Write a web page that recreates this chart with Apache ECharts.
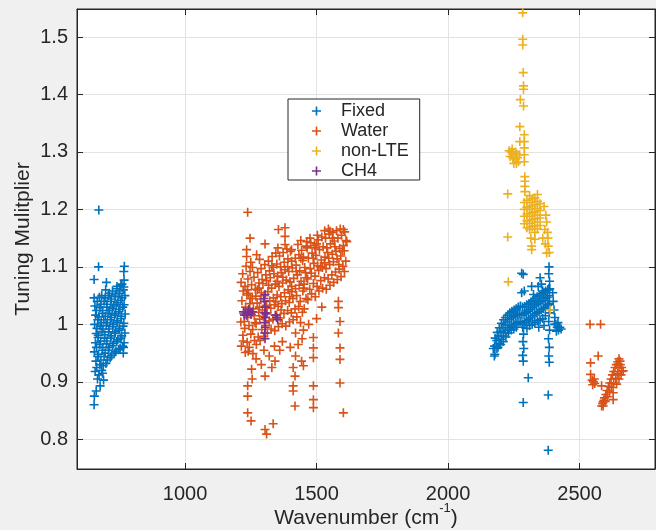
<!DOCTYPE html>
<html>
<head>
<meta charset="utf-8">
<script src="https://cdn.jsdelivr.net/npm/echarts@6/dist/echarts.min.js"></script>
<style>
html,body{margin:0;padding:0;background:#f0f0f0;}
#c{width:656px;height:530px;}
</style>
</head>
<body>
<div id="c"></div>
<script>
const seriesNames = ['Fixed', 'Water', 'non-LTE', 'CH4'];
const xTicks = [1000, 1500, 2000, 2500];
const yTicks = [0.8, 0.9, 1.0, 1.1, 1.2, 1.3, 1.4, 1.5];

const fixedData = [
[672,1.199],[671,1.100],[769,1.101],[767,1.092],[654,1.078],[701,1.073],[768,1.077],[698,1.060],[741,1.066],[760,1.070],[655,0.875],[677,0.893],[654,0.860],[662,0.884],[690,0.903],[686,0.915],[765,0.950],[766,0.960],
[658,0.918],[661,0.936],[655,0.952],[659,0.968],[662,0.984],[656,1.000],[660,1.016],[657,1.032],[654,1.046],
[667,0.905],[664,0.925],[668,0.944],[663,0.960],[669,0.977],[665,0.993],[668,1.008],[663,1.024],[666,1.040],
[673,0.912],[676,0.930],[671,0.948],[675,0.965],[670,0.981],[677,0.997],[672,1.013],[676,1.029],[674,1.047],
[683,0.920],[680,0.938],[685,0.955],[679,0.971],[684,0.987],[681,1.003],[686,1.019],[680,1.035],[683,1.050],
[689,0.928],[692,0.944],[687,0.960],[693,0.976],[688,0.992],[691,1.008],[686,1.024],[692,1.040],
[699,0.932],[696,0.950],[701,0.966],[695,0.982],[700,0.998],[697,1.014],[702,1.030],[696,1.046],
[705,0.938],[708,0.955],[703,0.971],[709,0.987],[704,1.003],[707,1.019],[703,1.035],[708,1.050],
[715,0.942],[712,0.960],[717,0.976],[711,0.992],[716,1.008],[713,1.024],[718,1.040],[712,1.054],
[721,0.946],[724,0.963],[719,0.980],[725,0.996],[720,1.012],[723,1.028],[719,1.044],[724,1.058],
[731,0.950],[728,0.967],[733,0.984],[727,1.000],[732,1.016],[729,1.032],[734,1.048],
[737,0.953],[740,0.970],[735,0.987],[741,1.003],[736,1.019],[739,1.035],[735,1.051],[740,1.062],
[747,0.956],[744,0.973],[749,0.990],[743,1.006],[748,1.022],[745,1.038],[750,1.054],
[753,0.958],[756,0.976],[751,0.993],[757,1.010],[752,1.026],[755,1.042],[751,1.058],[756,1.068],
[762,0.962],[759,0.980],[764,0.997],[758,1.014],[763,1.030],[760,1.046],[765,1.060],
[768,0.968],[771,0.985],[767,1.002],[772,1.018],[768,1.034],[771,1.050],[767,1.065],
[2172,0.958],[2176,0.945],[2178,0.948],[2177,0.962],[2179,0.976],
[2186,0.958],[2185,0.972],[2187,0.986],[2194,0.966],[2193,0.980],[2195,0.994],
[2202,0.974],[2201,0.988],[2203,1.002],[2210,0.980],[2209,0.994],[2211,1.008],
[2218,0.985],[2217,0.999],[2219,1.012],[2226,0.990],[2225,1.004],[2227,1.016],
[2234,0.994],[2233,1.008],[2235,1.020],[2242,0.997],[2241,1.011],[2243,1.023],
[2250,1.000],[2249,1.013],[2251,1.025],[2258,1.002],[2257,1.015],[2259,1.027],
[2266,1.004],[2265,1.017],[2267,1.030],[2274,1.005],[2273,1.019],[2275,1.032],
[2282,1.000],[2281,1.016],[2283,1.030],[2290,1.003],[2289,1.018],[2291,1.031],
[2298,1.006],[2297,1.020],[2299,1.034],[2306,1.009],[2305,1.023],[2307,1.036],
[2314,1.012],[2313,1.026],[2315,1.039],[2322,1.015],[2321,1.029],[2323,1.042],
[2330,1.018],[2329,1.032],[2331,1.045],[2338,1.020],[2337,1.034],[2339,1.048],
[2346,1.022],[2345,1.037],[2347,1.050],[2354,1.025],[2353,1.040],[2355,1.053],
[2362,1.027],[2361,1.042],[2363,1.055],[2370,1.030],[2369,1.045],[2371,1.058],
[2378,1.033],[2377,1.047],[2379,1.060],[2386,1.036],[2385,1.050],[2387,1.062],
[2190,0.960],[2200,0.965],[2210,0.970],[2220,0.978],[2230,0.985],[2240,0.990],[2250,0.992],[2260,0.995],
[2310,0.998],[2320,1.000],[2330,1.003],[2340,1.006],[2350,1.008],[2360,1.010],[2370,1.015],[2300,0.993],[2345,0.995],[2365,0.998],
[2398,1.055],[2400,1.040],[2403,1.025],[2406,1.012],[2410,1.000],[2415,0.995],[2420,0.990],[2425,0.995],[2430,0.992],[2418,1.003],[2412,0.988],[2405,1.000],
[2284,0.995],[2287,0.983],[2285,0.970],[2288,0.958],[2284,0.946],[2286,0.936],
[2384,1.100],[2383,1.088],[2386,1.075],[2383,1.062],[2382,1.035],[2385,1.020],[2383,1.005],[2386,0.990],[2382,0.975],[2385,0.960],[2383,0.945],[2385,0.934],
[2280,1.089],[2286,1.087],[2350,1.081],[2318,1.066],[2280,1.055],[2290,1.058],[2325,1.052],[2343,1.066],[2355,1.070],[2360,1.058],
[2305,0.907],[2286,0.864],[2381,0.877],[2381,0.781]
];

const waterData = [
[1214,0.962],[1220,0.981],[1212,1.004],[1223,1.019],[1216,1.041],[1221,1.058],[1213,1.073],[1219,1.088],
[1229,0.951],[1236,0.969],[1227,0.993],[1238,1.012],[1230,1.030],[1235,1.051],[1228,1.066],[1239,1.079],[1232,1.101],
[1244,0.960],[1250,0.983],[1243,0.998],[1252,1.017],[1246,1.036],[1241,1.054],[1253,1.069],[1247,1.092],[1250,1.108],
[1258,0.949],[1264,0.972],[1257,0.991],[1266,1.003],[1260,1.027],[1255,1.045],[1267,1.061],[1262,1.082],[1256,1.099],
[1271,0.965],[1278,0.978],[1270,1.001],[1280,1.021],[1274,1.037],[1269,1.049],[1281,1.072],[1276,1.090],
[1285,0.972],[1292,0.991],[1284,1.009],[1294,1.025],[1287,1.044],[1282,1.063],[1293,1.078],[1289,1.097],[1283,1.113],
[1299,0.979],[1306,0.998],[1297,1.014],[1308,1.033],[1301,1.050],[1296,1.071],[1307,1.086],[1303,1.104],
[1313,0.985],[1320,1.006],[1312,1.020],[1322,1.041],[1315,1.057],[1310,1.076],[1321,1.093],[1317,1.110],
[1327,0.992],[1334,1.009],[1326,1.028],[1336,1.046],[1329,1.063],[1324,1.081],[1335,1.099],[1331,1.118],
[1341,0.989],[1348,1.016],[1340,1.034],[1350,1.051],[1343,1.070],[1338,1.088],[1349,1.105],[1345,1.124],
[1355,0.996],[1362,1.011],[1354,1.031],[1364,1.048],[1357,1.066],[1352,1.084],[1363,1.100],[1359,1.119],[1353,1.133],
[1369,1.001],[1376,1.019],[1368,1.036],[1378,1.055],[1371,1.072],[1366,1.090],[1377,1.108],[1373,1.125],
[1383,0.997],[1390,1.024],[1382,1.041],[1392,1.060],[1385,1.077],[1380,1.095],[1391,1.114],[1387,1.131],
[1397,1.004],[1404,1.020],[1396,1.038],[1406,1.057],[1399,1.074],[1394,1.092],[1405,1.110],[1401,1.127],
[1411,1.008],[1418,1.027],[1410,1.045],[1420,1.062],[1413,1.080],[1408,1.098],[1419,1.115],
[1425,1.013],[1432,1.031],[1424,1.050],[1434,1.068],[1427,1.086],[1422,1.103],[1433,1.121],[1429,1.139],
[1439,1.003],[1446,1.021],[1438,1.040],[1448,1.058],[1441,1.075],[1436,1.093],[1447,1.111],[1443,1.129],[1440,1.146],
[1453,1.027],[1460,1.045],[1452,1.063],[1462,1.081],[1455,1.099],[1450,1.117],[1461,1.136],
[1467,1.043],[1474,1.061],[1466,1.079],[1476,1.097],[1469,1.115],[1464,1.133],[1475,1.150],
[1481,1.053],[1488,1.071],[1480,1.089],[1490,1.106],[1483,1.124],[1478,1.142],
[1495,1.048],[1502,1.066],[1494,1.084],[1504,1.102],[1497,1.120],[1492,1.137],[1503,1.155],
[1509,1.058],[1516,1.076],[1508,1.094],[1518,1.112],[1511,1.130],[1506,1.147],
[1523,1.063],[1530,1.081],[1522,1.099],[1532,1.117],[1525,1.135],[1520,1.152],[1531,1.163],
[1537,1.061],[1544,1.079],[1536,1.097],[1546,1.115],[1539,1.133],[1534,1.150],[1545,1.166],
[1551,1.068],[1558,1.086],[1550,1.104],[1560,1.122],[1553,1.140],[1548,1.157],
[1565,1.073],[1572,1.091],[1564,1.109],[1574,1.127],[1567,1.145],[1562,1.160],
[1579,1.078],[1586,1.096],[1578,1.114],[1588,1.132],[1581,1.150],[1576,1.163],
[1593,1.083],[1600,1.101],[1592,1.119],[1602,1.137],[1595,1.155],[1590,1.166],
[1606,1.092],[1611,1.110],[1605,1.128],[1612,1.146],[1607,1.161],
[1225,1.005],[1263,1.015],[1248,1.045],[1290,1.055],[1318,1.068],[1345,1.040],[1372,1.082],[1398,1.048],[1423,1.092],[1458,1.090],
[1487,1.115],[1515,1.100],[1542,1.125],[1570,1.135],[1598,1.128],[1310,1.030],[1365,1.025],[1405,1.066],[1452,1.070],[1530,1.107],
[1585,1.104],[1275,1.060],[1330,1.102],[1390,1.100],[1440,1.115],[1500,1.140],[1560,1.150],[1237,1.060],[1283,1.030],[1350,1.075],
[1238,1.195],[1355,1.165],[1380,1.168],[1380,1.153],[1247,1.150],[1304,1.140],[1234,1.130],[1234,1.118],[1272,1.121],[1380,1.139],[1405,1.130],[1463,1.144],[1494,1.133],[1551,1.162],[1602,1.165],[1615,1.144],
[1221,0.971],[1240,0.953],[1253,0.922],[1304,0.910],[1238,0.893],[1238,0.875],[1238,0.846],[1251,0.832],[1304,0.817],[1310,0.809],[1335,0.827],[1342,0.936],
[1411,0.925],[1418,0.910],[1411,0.884],[1418,0.858],[1450,0.928],[1488,0.977],[1488,0.959],[1488,0.942],[1488,0.893],[1488,0.869],[1488,0.855],
[1583,1.040],[1583,1.029],[1589,1.005],[1583,0.985],[1589,0.959],[1589,0.939],[1589,0.898],[1602,0.846],[1443,0.936],[1411,0.893],
[1300,0.955],[1320,0.945],[1340,0.962],[1360,0.955],[1330,0.925],[1430,0.965],[1445,0.975],[1400,0.960],[1420,0.945],[1370,0.970],[1290,0.930],[1270,0.940],[1255,0.905],[1420,0.985],[1450,0.990],[1470,1.000],[1500,1.010],[1520,1.030],
[2540,1.000],[2580,1.000],[2571,0.945],[2542,0.933],[2542,0.913],
[2548,0.903],[2553,0.900],[2558,0.897],[2550,0.895],[2556,0.905],[2584,0.893],
[2584,0.858],[2590,0.865],[2595,0.872],[2600,0.878],[2605,0.885],[2610,0.892],[2615,0.898],[2620,0.905],[2625,0.912],[2630,0.918],[2635,0.925],[2640,0.930],[2645,0.935],[2650,0.940],[2654,0.936],
[2590,0.858],[2598,0.866],[2606,0.874],[2614,0.882],[2622,0.890],[2630,0.898],[2638,0.906],[2645,0.915],[2650,0.925],[2655,0.930],
[2660,0.925],[2666,0.919],[2658,0.912],[2650,0.905],[2641,0.896],[2628,0.881],[2628,0.869],[2660,0.918],[2588,0.862],[2593,0.868]
];

const nonLteData = [
[2284,1.542],[2284,1.496],[2284,1.486],[2286,1.438],[2287,1.415],[2287,1.409],[2275,1.391],[2287,1.380],[2273,1.344],[2290,1.330],[2273,1.318],[2290,1.318],[2290,1.307],
[2232,1.302],[2240,1.300],[2248,1.298],[2256,1.300],[2236,1.292],[2246,1.290],[2256,1.288],[2264,1.290],[2250,1.280],[2260,1.280],[2268,1.283],[2272,1.295],[2244,1.305],[2262,1.296],
[2290,1.295],[2290,1.283],[2292,1.257],[2292,1.249],[2292,1.240],[2292,1.231],[2227,1.227],
[2290,1.175],[2290,1.188],[2290,1.200],[2290,1.212],
[2300,1.168],[2300,1.180],[2300,1.192],[2300,1.204],[2300,1.216],
[2310,1.165],[2310,1.176],[2310,1.188],[2310,1.200],[2310,1.212],[2310,1.224],
[2320,1.170],[2320,1.182],[2320,1.194],[2320,1.206],[2320,1.218],
[2330,1.160],[2330,1.172],[2330,1.184],[2330,1.196],[2330,1.208],[2330,1.220],
[2340,1.166],[2340,1.178],[2340,1.190],[2340,1.202],[2340,1.214],[2340,1.226],
[2350,1.172],[2350,1.185],[2350,1.198],[2350,1.210],
[2365,1.205],[2372,1.190],[2375,1.178],[2368,1.165],[2378,1.160],[2380,1.150],[2381,1.136],[2385,1.125],[2370,1.140],[2360,1.150],
[2315,1.150],[2318,1.136],[2330,1.148],[2227,1.152],[2229,1.074],[2388,1.025],[2318,1.130],[2375,1.124]
];

const ch4Data = [
[1222,1.022],[1230,1.022],[1238,1.020],[1246,1.022],[1226,1.016],[1234,1.016],[1242,1.026],[1250,1.018],[1256,1.022],
[1304,1.052],[1302,1.040],[1305,1.030],[1303,1.020],[1306,1.012],[1302,1.003],[1305,0.995],[1303,0.985],[1304,0.975],[1300,1.045],[1308,1.018],
[1348,1.012],[1343,1.016],[1352,1.008]
];

const colors = ['#0072BD', '#D95319', '#EDB120', '#7E2F8E'];
const plusPath = 'path://M4.1,0H5.9V4.1H10V5.9H5.9V10H4.1V5.9H0V4.1H4.1Z';
const FONT = '"Liberation Sans", Arial, Helvetica, sans-serif';
const TXT = '#262626';
const AX = '#262626';
const fmt = v => String(+v.toFixed(2));

const chart = echarts.init(document.getElementById('c'), null, {renderer: 'canvas'});
const dataSets = [fixedData, waterData, nonLteData, ch4Data];

const option = {
  backgroundColor: '#f0f0f0',
  animation: false,
  grid: {left: 77, right: 1, top: 9, bottom: 61, containLabel: false, outerBoundsMode: 'none',
         show: true, backgroundColor: '#ffffff', borderColor: AX, borderWidth: 1},
  legend: {
    data: seriesNames,
    orient: 'vertical',
    left: 288, top: 99,
    backgroundColor: '#ffffff',
    borderColor: AX, borderWidth: 1,
    padding: [3, 11, 0, 24],
    itemWidth: 9, itemHeight: 9, itemGap: 2,
    icon: plusPath,
    textStyle: {fontFamily: FONT, fontSize: 18, color: TXT, lineHeight: 18, padding: [0, 0, 0, 15]}
  },
  xAxis: [{
    type: 'value', min: 589, max: 2787, position: 'bottom',
    axisLine: {show: true, onZero: false, lineStyle: {color: AX}},
    axisTick: {show: true, inside: true, length: 6, customValues: xTicks, lineStyle: {color: AX}},
    axisLabel: {customValues: xTicks, formatter: fmt, fontFamily: FONT, fontSize: 20, color: TXT, margin: 15},
    splitLine: {show: true, lineStyle: {color: '#e3e3e3', width: 1}},
    name: '{a|Wavenumber (cm}{s|-1}{a|)}',
    nameLocation: 'middle', nameGap: 33, nameMoveOverlap: false,
    nameTextStyle: {
      fontFamily: FONT, color: TXT,
      rich: {
        a: {fontFamily: FONT, fontSize: 21, color: TXT, lineHeight: 27, verticalAlign: 'bottom'},
        s: {fontFamily: FONT, fontSize: 13, color: TXT, lineHeight: 14, verticalAlign: 'top'}
      }
    }
  }, {
    type: 'value', min: 589, max: 2787, position: 'top',
    axisLine: {show: true, onZero: false, lineStyle: {color: AX}},
    axisTick: {show: true, inside: true, length: 6, customValues: xTicks, lineStyle: {color: AX}},
    axisLabel: {show: false},
    splitLine: {show: false}
  }],
  yAxis: [{
    type: 'value', min: 0.7483, max: 1.5487, position: 'left',
    axisLine: {show: true, onZero: false, lineStyle: {color: AX}},
    axisTick: {show: true, inside: true, length: 6, customValues: yTicks, lineStyle: {color: AX}},
    axisLabel: {customValues: yTicks, formatter: fmt, fontFamily: FONT, fontSize: 20, color: TXT, margin: 9},
    splitLine: {show: true, lineStyle: {color: '#e3e3e3', width: 1}},
    name: 'Tuning Mulitplier', nameLocation: 'middle', nameGap: 43, nameRotate: 90, nameMoveOverlap: false,
    nameTextStyle: {fontFamily: FONT, fontSize: 21, color: TXT}
  }, {
    type: 'value', min: 0.7483, max: 1.5487, position: 'right',
    axisLine: {show: true, onZero: false, lineStyle: {color: AX}},
    axisTick: {show: true, inside: true, length: 6, customValues: yTicks, lineStyle: {color: AX}},
    axisLabel: {show: false},
    splitLine: {show: false}
  }],
  series: seriesNames.map((n, i) => ({
    name: n, type: 'scatter', xAxisIndex: 0, yAxisIndex: 0,
    data: dataSets[i],
    symbol: plusPath, symbolSize: 9,
    itemStyle: {color: colors[i], opacity: 1},
    emphasis: {disabled: true},
    z: 2 + i
  }))
};
chart.setOption(option);
</script>
</body>
</html>
